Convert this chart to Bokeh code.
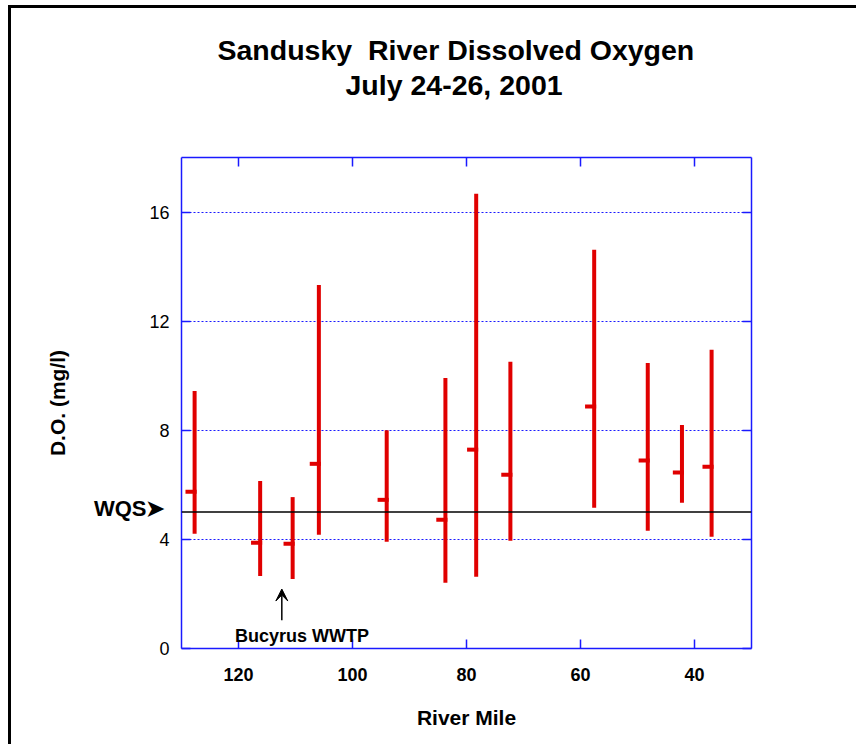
from bokeh.plotting import figure
from bokeh.models import (ColumnDataSource, Range1d, LinearAxis, FixedTicker,
                          Label, Arrow, VeeHead, Span, Title)
from bokeh.transform import dodge
from bokeh.embed import file_html
from bokeh.resources import INLINE

# ---- data ----
miles = [127.7, 116.2, 110.5, 105.9, 94.0, 83.7, 78.3, 72.3, 57.6, 48.2, 42.2, 37.0]
do_min = [4.21, 2.66, 2.55, 4.17, 3.91, 2.41, 2.63, 3.95, 5.16, 4.32, 5.34, 4.10]
do_max = [9.44, 6.14, 5.55, 13.33, 8.00, 9.92, 16.67, 10.51, 14.62, 10.47, 8.19, 10.95]
do_mean = [5.75, 3.88, 3.84, 6.77, 5.45, 4.72, 7.29, 6.37, 8.87, 6.89, 6.45, 6.66]
x_ticks = [120, 100, 80, 60, 40]
y_ticks = [0, 4, 8, 12, 16]
wqs = 5.0
wwtp_mile = 112.4

FONT = "Liberation Sans"
RED = "#e00000"
BLUE = "#1a1aff"

src = ColumnDataSource(dict(mile=miles, lo=do_min, hi=do_max, mean=do_mean))

p = figure(frame_width=570, frame_height=491,
           min_border_left=170, min_border_right=105,
           min_border_top=149, min_border_bottom=96,
           x_range=Range1d(130, 30), y_range=Range1d(0, 18),
           output_backend="svg", toolbar_location=None,
           background_fill_color="white", border_fill_color="white",
           outline_line_color=None,
           styles={"margin-left": "8px", "margin-top": "5px",
                   "border-left": "3px solid black", "border-top": "3px solid black"})

p.add_layout(LinearAxis(), "above")
p.add_layout(LinearAxis(), "right")

for ax in p.xaxis:
    ax.ticker = FixedTicker(ticks=x_ticks)
for ax in (p.left[0], p.right[0]):
    ax.ticker = FixedTicker(ticks=y_ticks)

for ax in list(p.xaxis) + [p.left[0], p.right[0]]:
    ax.axis_line_color = BLUE
    ax.axis_line_width = 1.5
    ax.major_tick_line_color = BLUE
    ax.major_tick_line_width = 1.5
    ax.major_tick_in = 9
    ax.major_tick_out = 0
    ax.minor_tick_line_color = None
    ax.major_label_text_font = FONT
    ax.major_label_text_color = "black"

for ax in (p.above[0], p.right[0]):
    ax.major_label_text_color = None
    ax.major_label_text_font_size = "0px"
    ax.major_label_standoff = 0

xb = p.below[0]
xb.major_label_text_font_size = "18px"
xb.major_label_text_font_style = "bold"
xb.major_label_standoff = 19
xb.axis_label = "River Mile"
xb.axis_label_text_font = FONT
xb.axis_label_text_font_size = "21px"
xb.axis_label_text_font_style = "bold"
xb.axis_label_text_color = "black"
xb.axis_label_standoff = 22

yl = p.left[0]
yl.major_label_text_font_size = "18px"
yl.major_label_text_font_style = "normal"
yl.major_label_standoff = 12

# outer left axis: the "WQS ➤" tag and the y axis title
wq = LinearAxis(ticker=FixedTicker(ticks=[wqs + 0.12]),
                major_label_overrides={wqs + 0.12: "WQS\u27a4"})
wq.axis_line_color = None
wq.major_tick_line_color = None
wq.minor_tick_line_color = None
wq.major_tick_in = 0
wq.major_tick_out = 0
wq.major_label_standoff = -18
wq.major_label_text_font = FONT
wq.major_label_text_font_size = "22px"
wq.major_label_text_font_style = "bold"
wq.major_label_text_color = "black"
wq.axis_label = "D.O. (mg/l)"
wq.axis_label_text_font = FONT
wq.axis_label_text_font_size = "21px"
wq.axis_label_text_font_style = "bold"
wq.axis_label_text_color = "black"
wq.axis_label_standoff = 22
p.add_layout(wq, "left")

p.xgrid.grid_line_color = None
p.ygrid.ticker = FixedTicker(ticks=y_ticks[1:])
p.ygrid.grid_line_color = BLUE
p.ygrid.grid_line_dash = "2 2"
p.ygrid.grid_line_width = 1.2

# WQS reference line
p.add_layout(Span(location=wqs, dimension="width", line_color="black", line_width=1.5))

# range bars and mean ticks
p.segment(x0="mile", y0="lo", x1="mile", y1="hi", source=src,
          line_color=RED, line_width=4, line_cap="butt")
p.segment(x0=dodge("mile", 1.6), y0="mean", x1=dodge("mile", -0.35), y1="mean",
          source=src, line_color=RED, line_width=4, line_cap="butt")

# Bucyrus WWTP annotation
p.add_layout(Arrow(end=VeeHead(size=12, fill_color="black", line_color="black"),
                   x_start=wwtp_mile, y_start=1.04, x_end=wwtp_mile, y_end=2.18,
                   line_color="black", line_width=1.5))
p.add_layout(Label(x=108.85, y=0.45, text="Bucyrus WWTP", text_align="center",
                   text_baseline="alphabetic", text_font=FONT, text_font_size="18px",
                   text_font_style="bold", text_color="black"))

# Titles: a blank spacer sits next to the frame, then line 2, then line 1
p.add_layout(Title(text="\u00a0", align="left", standoff=54,
                   text_font=FONT, text_font_size="1px", text_color="white"), "above")
p.add_layout(Title(text="July 24-26, 2001", align="left", offset=164, standoff=0,
                   text_font=FONT, text_font_size="28.5px", text_font_style="bold",
                   text_color="black"), "above")
p.add_layout(Title(text="Sandusky\u00a0 River Dissolved Oxygen", align="left", offset=36,
                   standoff=2, text_font=FONT,
                   text_font_size="28.5px", text_font_style="bold",
                   text_color="black"), "above")

open("out.html", "w").write(file_html(p, INLINE))
